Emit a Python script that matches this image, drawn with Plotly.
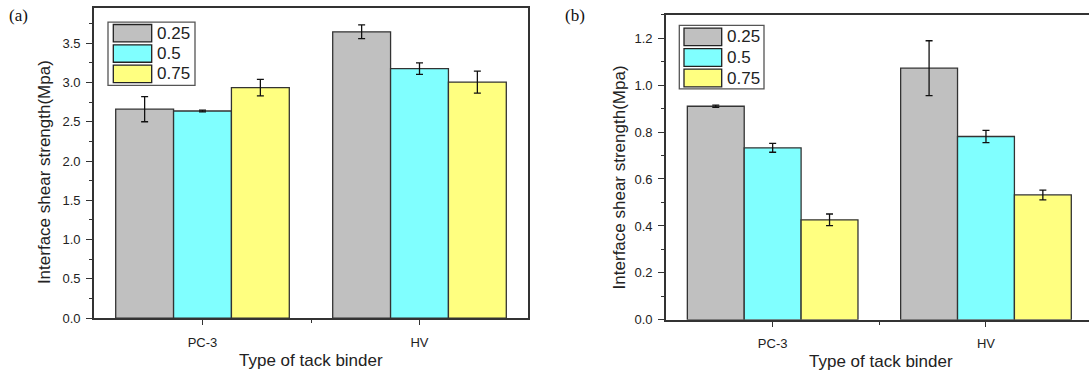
import plotly.graph_objects as go

# ---------------- data ----------------
categories = ["PC-3", "HV"]
series_names = ["0.25", "0.5", "0.75"]
series_colors = ["#C0C0C0", "#80FFFF", "#FFFF80"]

# panel (a)
a_values = [[2.66, 3.645], [2.637, 3.176], [2.935, 3.005]]
a_errors = [[0.16, 0.087], [0.012, 0.073], [0.105, 0.14]]
# panel (b)
b_values = [[0.910, 1.072], [0.733, 0.781], [0.426, 0.532]]
b_errors = [[0.005, 0.117], [0.019, 0.026], [0.025, 0.021]]

W, H = 1089, 381
FONT = "Liberation Sans, Arial, sans-serif"
TXT = "#222222"
AX = "#333333"


def px(x):
    return x / W


def py(y):
    return 1 - y / H


xpos = list(range(len(categories)))

fig = go.Figure()
for i, name in enumerate(series_names):
    fig.add_trace(go.Bar(
        x=xpos, y=a_values[i], name=name, xaxis="x", yaxis="y",
        marker=dict(color=series_colors[i], line=dict(color=AX, width=1.3)),
        error_y=dict(type="data", array=a_errors[i], color="#111111", thickness=1.3, width=3.5),
        showlegend=False, offsetgroup=str(i)))
for i, name in enumerate(series_names):
    fig.add_trace(go.Bar(
        x=xpos, y=b_values[i], name=name, xaxis="x2", yaxis="y2",
        marker=dict(color=series_colors[i], line=dict(color=AX, width=1.3)),
        error_y=dict(type="data", array=b_errors[i], color="#111111", thickness=1.3, width=3.5),
        showlegend=False, offsetgroup=str(i)))

common_x = dict(
    tickmode="array", tickvals=xpos, ticktext=categories,
    ticks="outside", ticklen=5, tickwidth=1.4, tickcolor=AX,
    minor=dict(tickmode="array", tickvals=[0.5], ticks="outside", ticklen=3, tickwidth=1.2, tickcolor=AX),
    showline=True, linecolor=AX, linewidth=1.6, showgrid=False, zeroline=False,
    tickfont=dict(family=FONT, size=13, color=TXT), ticklabelstandoff=6, fixedrange=True,
)
common_y = dict(
    ticks="outside", ticklen=6, tickwidth=1.4, tickcolor=AX, tickformat=".1f",
    showline=True, linecolor=AX, linewidth=1.6, showgrid=False, zeroline=False,
    tickfont=dict(family=FONT, size=13, color=TXT), ticklabelstandoff=3, fixedrange=True,
)

fig.update_layout(
    width=W, height=H, autosize=False,
    margin=dict(l=0, r=0, t=0, b=0),
    paper_bgcolor="white", plot_bgcolor="white",
    barmode="group", bargap=0.2, bargroupgap=0,
    showlegend=False,
    xaxis=dict(domain=[px(94), px(528)], range=[-0.5, 1.5], anchor="y", mirror=True, **common_x),
    yaxis=dict(domain=[py(325), py(8)], range=[0, 3.95], anchor="x", mirror=True,
               dtick=0.5, tick0=0,
               minor=dict(dtick=0.25, ticks="outside", ticklen=3, tickwidth=1.2, tickcolor=AX),
               **common_y),
    xaxis2=dict(domain=[px(666), 1.0], range=[-0.5, 1.483], anchor="y2", mirror=True, **common_x),
    yaxis2=dict(domain=[py(326.7), py(15)], range=[0, 1.30], anchor="x2", mirror=False,
                dtick=0.2, tick0=0,
                minor=dict(dtick=0.1, ticks="outside", ticklen=3, tickwidth=1.2, tickcolor=AX),
                **common_y),
)

annotations = []
shapes = []

# panel labels and axis titles
for lbl, x, y in [("(a)", 18, 16), ("(b)", 575, 16)]:
    annotations.append(dict(text=lbl, x=px(x), y=py(y), xref="paper", yref="paper",
                            showarrow=False, xanchor="center", yanchor="middle",
                            font=dict(family="Liberation Serif, Times New Roman, serif", size=17, color="#111111")))
for x, y in [(311, 368.7), (880.8, 369)]:
    annotations.append(dict(text="Type of tack binder", x=px(x), y=py(y), xref="paper", yref="paper",
                            showarrow=False, xanchor="center", yanchor="middle",
                            font=dict(family=FONT, size=17, color=TXT)))
for x, y in [(44, 175.8), (619.5, 181.7)]:
    annotations.append(dict(text="Interface shear strength(Mpa)", x=px(x), y=py(y), xref="paper", yref="paper",
                            showarrow=False, xanchor="center", yanchor="middle", textangle=-90,
                            font=dict(family=FONT, size=17, color=TXT)))

# custom legends (Origin style big swatches)
legend_geo = [
    dict(box=(108, 195, 22.7, 87.3), sw=(113.3, 151.7), top=25, pitch=20.8, h=17.8),
    dict(box=(679.3, 764, 26, 90.7), sw=(684, 721.7), top=28.7, pitch=21.0, h=18.0),
]
for g in legend_geo:
    bx0, bx1, by0, by1 = g["box"]
    shapes.append(dict(type="rect", xref="paper", yref="paper",
                       x0=px(bx0), x1=px(bx1), y0=py(by1), y1=py(by0),
                       line=dict(color="#555555", width=1.3), fillcolor="white", layer="above"))
    for i, name in enumerate(series_names):
        t = g["top"] + i * g["pitch"]
        shapes.append(dict(type="rect", xref="paper", yref="paper",
                           x0=px(g["sw"][0]), x1=px(g["sw"][1]), y0=py(t + g["h"]), y1=py(t),
                           line=dict(color="#222222", width=1.3), fillcolor=series_colors[i], layer="above"))
        annotations.append(dict(text=name, x=px(g["sw"][1] + 3), y=py(t + g["h"] / 2),
                                xref="paper", yref="paper", showarrow=False,
                                xanchor="left", yanchor="middle",
                                font=dict(family=FONT, size=17, color=TXT)))

fig.update_layout(annotations=annotations, shapes=shapes)
fig.write_html("out.html", config={"displayModeBar": False})
